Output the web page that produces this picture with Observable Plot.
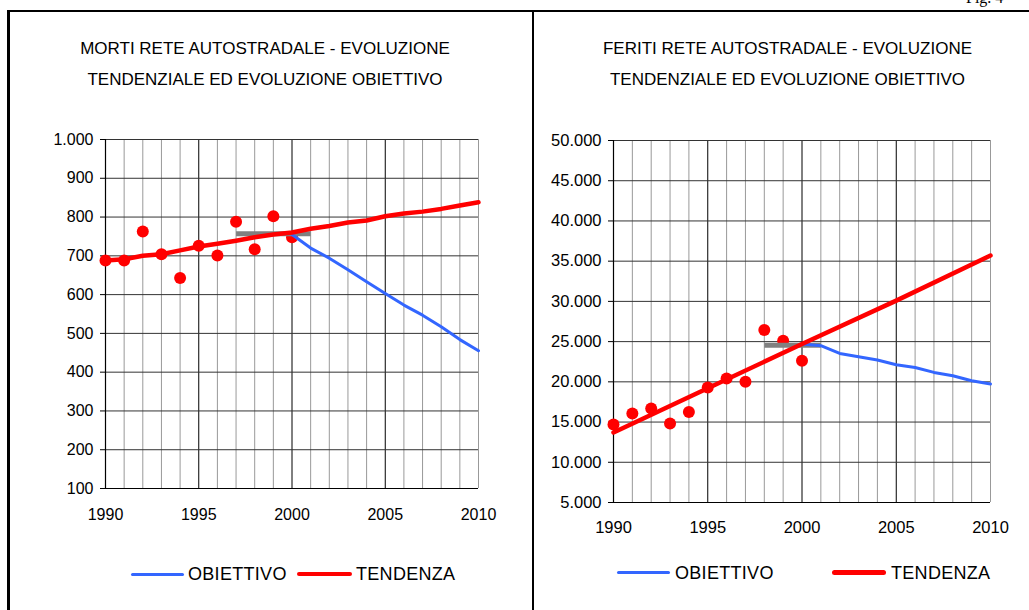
<!DOCTYPE html>
<html><head><meta charset="utf-8">
<script src="https://cdn.jsdelivr.net/npm/d3@7"></script>
<script src="https://cdn.jsdelivr.net/npm/@observablehq/plot@0.6"></script>
<style>
html,body{margin:0;padding:0;background:#fff;}
body{width:1029px;height:610px;overflow:hidden;position:relative;font-family:"Liberation Sans",Arial,sans-serif;color:#000;}
.abs{position:absolute;}
.title{position:absolute;text-align:center;font-size:17px;line-height:31px;white-space:nowrap;}
.leg-text{position:absolute;font-size:18px;line-height:20px;white-space:nowrap;letter-spacing:0.3px;}
.leg-line{position:absolute;border-radius:3px;}
</style>
</head><body>
<div class="abs" style="left:7px;top:10px;width:1022px;height:2px;background:#000"></div>
<div class="abs" style="left:7px;top:10px;width:2.5px;height:600px;background:#000"></div>
<div class="abs" style="left:531.5px;top:10px;width:2.5px;height:600px;background:#000"></div>
<div class="abs" style="left:966px;top:-10px;font-family:'Liberation Serif','Times New Roman',serif;font-size:16px;line-height:16px;">Fig. 4</div>

<div id="t1" class="title" style="left:9px;top:33px;width:512px;"></div>
<div id="t2" class="title" style="left:534px;top:33px;width:507px;"></div>
<div id="p1" class="abs" style="left:9px;top:100px;"></div>
<div id="p2" class="abs" style="left:540px;top:100px;"></div>
<div id="leg"></div>

<script>
// ---- Data ----
const titleLeft = ["MORTI RETE AUTOSTRADALE - EVOLUZIONE", "TENDENZIALE ED EVOLUZIONE OBIETTIVO"];
const titleRight = ["FERITI RETE AUTOSTRADALE - EVOLUZIONE", "TENDENZIALE ED EVOLUZIONE OBIETTIVO"];
const legendLabels = ["OBIETTIVO", "TENDENZA"];

const xTicks = [1990, 1995, 2000, 2005, 2010];
const gridYears = [1991,1992,1993,1994,1996,1997,1998,1999,2001,2002,2003,2004,2006,2007,2008,2009,2010];
const majorYears = [1995, 2000, 2005];

const obsYears = [1990,1991,1992,1993,1994,1995,1996,1997,1998,1999,2000];
const allYears = [1990,1991,1992,1993,1994,1995,1996,1997,1998,1999,2000,2001,2002,2003,2004,2005,2006,2007,2008,2009,2010];
const targetYears = [2000,2001,2002,2003,2004,2005,2006,2007,2008,2009,2010];

// Left: MORTI
const leftYTicks = [100,200,300,400,500,600,700,800,900,1000];
const leftObs = [688, 688, 763, 704, 643, 726, 701, 788, 717, 802, 748];
const leftTrend = [688, 691, 700, 704, 714, 724, 731, 739, 748, 755, 760, 770, 777, 786, 791, 802, 809, 814, 821, 830, 838];
const leftTarget = [755, 720, 694, 664, 633, 603, 573, 547, 517, 484, 455];
const leftBarYears = [1997, 2001];
const leftBarValue = 757;

// Right: FERITI
const rightYTicks = [5000,10000,15000,20000,25000,30000,35000,40000,45000,50000];
const rightObs = [14700, 16070, 16690, 14830, 16240, 19300, 20400, 20000, 26440, 25110, 22620];
const rightTrendYears = [1990, 1995, 2000, 2005, 2010];
const rightTrend = [13700, 19200, 24700, 30100, 35700];
const rightTarget = [24700, 24490, 23530, 23120, 22710, 22130, 21790, 21170, 20760, 20140, 19730];
const rightBarYears = [1998, 2001];
const rightBarValue = 24550;

const RED = "#ff0000", BLUE = "#3366ff", GRAY = "#808080";
const it = d3.formatLocale({decimal: ",", thousands: ".", grouping: [3], currency: ["€", ""]});
const fmt = it.format(",d");

function makeChart(o) {
  const obs = obsYears.map((x, i) => ({x, y: o.obs[i]}));
  const trend = o.trendYears.map((x, i) => ({x, y: o.trend[i]}));
  const target = targetYears.map((x, i) => ({x, y: o.target[i]}));
  const bar = o.barYears.map(x => ({x, y: o.barValue}));
  return Plot.plot({
    width: o.width, height: o.height,
    marginLeft: o.ml, marginRight: o.mr, marginTop: o.mt, marginBottom: o.mb,
    x: {domain: [1990, 2010]},
    y: {domain: o.ydomain},
    style: {fontFamily: '"Liberation Sans", Arial, sans-serif', fontSize: o.fs, color: "#000", background: "transparent", overflow: "visible"},
    marks: [
      Plot.ruleX(gridYears, {stroke: "#999", strokeWidth: 1}),
      Plot.ruleX(majorYears, {stroke: "#000", strokeWidth: 1}),
      Plot.ruleY(o.yticks, {stroke: "#333", strokeWidth: 1}),
      Plot.ruleX([1990], {stroke: "#000", strokeWidth: 1.2}),
      Plot.ruleY([o.ydomain[0]], {stroke: "#000", strokeWidth: 1.2}),
      Plot.axisY({ticks: o.yticks, tickFormat: fmt, tickSize: 5, tickPadding: 7, label: null, stroke: "#000"}),
      Plot.axisX({ticks: xTicks, tickFormat: d => String(d), tickSize: 0, tickPadding: o.xpad, label: null}),
      Plot.dot(obs, {x: "x", y: "y", r: 6, fill: RED}),
      Plot.line(bar, {x: "x", y: "y", stroke: GRAY, strokeWidth: 5, strokeLinecap: "butt"}),
      Plot.line(target, {x: "x", y: "y", stroke: BLUE, strokeWidth: 3}),
      Plot.line(trend, {x: "x", y: "y", stroke: RED, strokeWidth: 4.5})
    ]
  });
}

document.getElementById("p1").appendChild(makeChart({
  width: 510, height: 440, ml: 96, mr: 41, mt: 39, mb: 52, xpad: 20, fs: "16px",
  ydomain: [100, 1000], yticks: leftYTicks,
  obs: leftObs, trendYears: allYears, trend: leftTrend, target: leftTarget,
  barYears: leftBarYears, barValue: leftBarValue
}));
document.getElementById("p2").appendChild(makeChart({
  width: 480, height: 440, ml: 73, mr: 30, mt: 40, mb: 38, xpad: 19, fs: "16.5px",
  ydomain: [5000, 50000], yticks: rightYTicks,
  obs: rightObs, trendYears: rightTrendYears, trend: rightTrend, target: rightTarget,
  barYears: rightBarYears, barValue: rightBarValue
}));

document.getElementById("t1").innerHTML = titleLeft.join("<br>");
document.getElementById("t2").innerHTML = titleRight.join("<br>");

// Legends
const leg = document.getElementById("leg");
function addLegend(items) {
  for (const it of items) {
    const l = document.createElement("div");
    l.className = "leg-line";
    l.style.cssText = `left:${it.lx}px;top:${it.ly - it.lw/2}px;width:${it.len}px;height:${it.lw}px;background:${it.color}`;
    leg.appendChild(l);
    const t = document.createElement("div");
    t.className = "leg-text";
    t.style.cssText = `left:${it.tx}px;top:${it.ly - 10}px`;
    t.textContent = it.label;
    leg.appendChild(t);
  }
}
addLegend([
  {label: legendLabels[0], color: BLUE, lw: 3, lx: 131, ly: 574, len: 53, tx: 188},
  {label: legendLabels[1], color: RED, lw: 4.5, lx: 297, ly: 574, len: 55, tx: 356},
  {label: legendLabels[0], color: BLUE, lw: 3, lx: 617, ly: 572.5, len: 53, tx: 675},
  {label: legendLabels[1], color: RED, lw: 4.5, lx: 832, ly: 572.5, len: 54, tx: 891}
]);
</script>
</body></html>
